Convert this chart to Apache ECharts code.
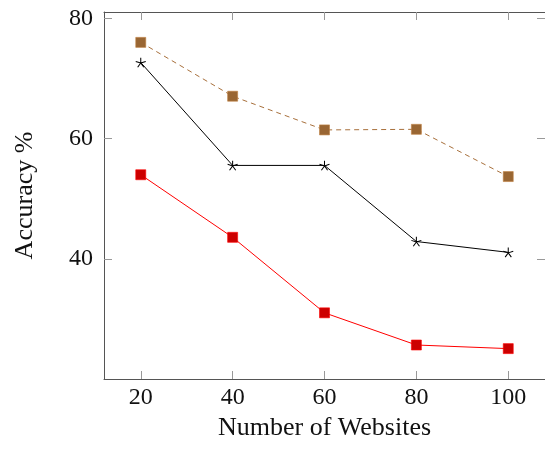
<!DOCTYPE html>
<html>
<head>
<meta charset="utf-8">
<script src="https://cdn.jsdelivr.net/npm/echarts@6/dist/echarts.min.js"></script>
<style>html,body{margin:0;padding:0;background:#fff;}#c{width:545px;height:453px;}</style>
</head>
<body>
<div id="c"></div>
<script>
const websites = [20, 40, 60, 80, 100];
const xTicks = [20, 40, 60, 80, 100];
const yTicks = [40, 60, 80];
const brownSeries = [76.0, 67.05, 61.45, 61.55, 53.7];
const blackSeries = [72.65, 55.55, 55.55, 42.9, 41.1];
const redSeries = [54.0, 43.6, 31.05, 25.7, 25.1];

const FONT = 'Liberation Serif';
const starPath = 'path://M0 0L0 -1000M0 0L-951 -309M0 0L-588 809M0 0L588 809M0 0L951 -309';

function pairs(vals) { return websites.map((x, i) => [x, vals[i]]); }

const axisCommon = {
  axisLine: { show: true, lineStyle: { color: '#555', width: 1 } },
  axisTick: { show: true, inside: true, length: 8, lineStyle: { color: '#999', width: 1 } },
  splitLine: { show: false }
};

const chart = echarts.init(document.getElementById('c'), null, { renderer: 'canvas' });
chart.setOption({
  animation: false,
  backgroundColor: '#fff',
  grid: { left: 104, top: 12, right: -1, bottom: 74, containLabel: false },
  xAxis: [
    Object.assign({}, axisCommon, {
      type: 'value', min: 12, max: 108, position: 'bottom',
      name: 'Number of Websites', nameLocation: 'middle', nameGap: 36,
      nameTextStyle: { fontFamily: FONT, fontSize: 26, color: '#111' },
      axisTick: Object.assign({}, axisCommon.axisTick, { customValues: xTicks }),
      axisLabel: { customValues: xTicks, fontFamily: FONT, fontSize: 24, color: '#111', margin: 7 }
    }),
    Object.assign({}, axisCommon, {
      type: 'value', min: 12, max: 108, position: 'top',
      axisTick: Object.assign({}, axisCommon.axisTick, { customValues: xTicks }),
      axisLabel: { show: false, customValues: xTicks }
    })
  ],
  yAxis: [
    Object.assign({}, axisCommon, {
      type: 'value', min: 20.05, max: 81.05, position: 'left',
      name: 'Accuracy %', nameLocation: 'middle', nameGap: 66, nameRotate: 90,
      nameTextStyle: { fontFamily: FONT, fontSize: 26, color: '#111' },
      axisTick: Object.assign({}, axisCommon.axisTick, { customValues: yTicks }),
      axisLabel: { customValues: yTicks, fontFamily: FONT, fontSize: 24, color: '#111', margin: 11 }
    }),
    Object.assign({}, axisCommon, {
      type: 'value', min: 20.05, max: 81.05, position: 'right',
      axisTick: Object.assign({}, axisCommon.axisTick, { customValues: yTicks }),
      axisLabel: { show: false, customValues: yTicks }
    })
  ],
  series: [
    {
      type: 'line', data: pairs(brownSeries), xAxisIndex: 0, yAxisIndex: 0,
      symbol: 'rect', symbolSize: 10,
      lineStyle: { color: '#a8703c', width: 1, type: [5, 4] },
      itemStyle: { color: '#996633', borderColor: '#bf8040', borderWidth: 0.6 }
    },
    {
      type: 'line', data: pairs(blackSeries), xAxisIndex: 0, yAxisIndex: 0,
      symbol: starPath, symbolSize: [10, 9.5],
      lineStyle: { color: '#000', width: 1 },
      itemStyle: { color: 'none', borderColor: '#000', borderWidth: 1 }
    },
    {
      type: 'line', data: pairs(redSeries), xAxisIndex: 0, yAxisIndex: 0,
      symbol: 'rect', symbolSize: 10,
      lineStyle: { color: '#ff0000', width: 1 },
      itemStyle: { color: '#cc0000', borderColor: '#ff0000', borderWidth: 0.6 }
    }
  ]
});
</script>
</body>
</html>
